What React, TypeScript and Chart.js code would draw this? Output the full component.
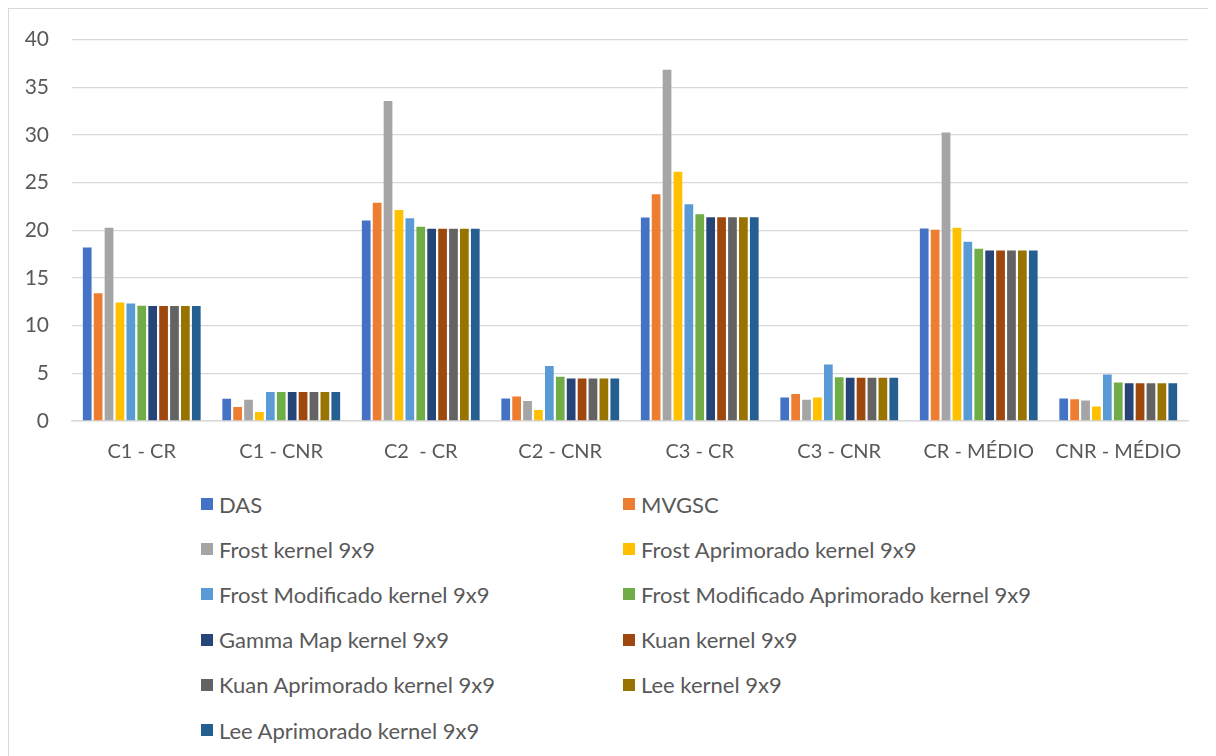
import React, { useEffect, useRef } from "react";
import { Chart, registerables } from "chart.js";

Chart.register(...registerables);

const categories = ["C1 - CR", "C1 - CNR", "C2  - CR", "C2 - CNR", "C3 - CR", "C3 - CNR", "CR - MÉDIO", "CNR - MÉDIO"];

const seriesNames = [
  "DAS",
  "MVGSC",
  "Frost kernel 9x9",
  "Frost Aprimorado kernel 9x9",
  "Frost Modificado kernel 9x9",
  "Frost Modificado Aprimorado kernel 9x9",
  "Gamma Map kernel 9x9",
  "Kuan kernel 9x9",
  "Kuan Aprimorado kernel 9x9",
  "Lee kernel 9x9",
  "Lee Aprimorado kernel 9x9",
];

const seriesColors = ["#4472C4", "#ED7D31", "#A5A5A5", "#FFC000", "#5B9BD5", "#70AD47", "#264478", "#9E480E", "#636363", "#997300", "#255E91"];

const das = [18.2, 2.33, 21.02, 2.37, 21.34, 2.47, 20.19, 2.37];
const mvgsc = [13.4, 1.46, 22.9, 2.58, 23.78, 2.82, 20.05, 2.27];
const frost = [20.26, 2.23, 33.56, 2.09, 36.83, 2.23, 30.25, 2.16];
const frostAprimorado = [12.43, 0.94, 22.14, 1.15, 26.15, 2.47, 20.26, 1.53];
const frostModificado = [12.32, 3.03, 21.27, 5.78, 22.73, 5.92, 18.8, 4.87];
const frostModificadoAprimorado = [12.1, 3.03, 20.37, 4.63, 21.69, 4.6, 18.07, 4.04];
const gammaMap = [12.07, 3.03, 20.16, 4.45, 21.38, 4.53, 17.89, 3.97];
const kuan = [12.07, 3.03, 20.16, 4.45, 21.38, 4.53, 17.89, 3.97];
const kuanAprimorado = [12.07, 3.03, 20.16, 4.45, 21.38, 4.53, 17.89, 3.97];
const lee = [12.07, 3.03, 20.16, 4.45, 21.38, 4.53, 17.89, 3.97];
const leeAprimorado = [12.07, 3.03, 20.16, 4.45, 21.38, 4.53, 17.89, 3.97];

const seriesValues = [das, mvgsc, frost, frostAprimorado, frostModificado, frostModificadoAprimorado, gammaMap, kuan, kuanAprimorado, lee, leeAprimorado];

const yMin = 0;
const yMax = 40;
const yStep = 5;

const FONT = "Lato, 'Noto Sans', sans-serif";
const TEXT = "#595959";
const GRID = "#d9d9d9";

export default function App() {
  const canvasRef = useRef<HTMLCanvasElement | null>(null);

  useEffect(() => {
    if (!canvasRef.current) return;
    const chart = new Chart(canvasRef.current, {
      type: "bar",
      data: {
        labels: categories,
        datasets: seriesNames.map((name, i) => ({
          label: name,
          data: seriesValues[i],
          backgroundColor: seriesColors[i],
          borderWidth: 0,
          categoryPercentage: 0.86,
          barPercentage: 0.8,
        })),
      },
      options: {
        animation: false,
        responsive: false,
        devicePixelRatio: 1,
        layout: { padding: { top: 10, right: 28, bottom: 0, left: 0 } },
        plugins: { legend: { display: false }, tooltip: { enabled: false } },
        scales: {
          x: {
            grid: { display: false, drawTicks: false },
            border: { display: true, color: GRID, width: 1.5 },
            ticks: { color: TEXT, font: { family: FONT, size: 20 }, padding: 19, maxRotation: 0, autoSkip: false },
            afterFit: (s: any) => {
              s.height = 68;
            },
          },
          y: {
            min: yMin,
            max: yMax,
            grid: { color: GRID, lineWidth: 1.3, drawTicks: false },
            border: { display: false },
            ticks: { stepSize: yStep, color: TEXT, font: { family: FONT, size: 21 }, padding: 23 },
            afterFit: (s: any) => {
              s.width = 63;
            },
          },
        },
      },
    });
    return () => chart.destroy();
  }, []);

  const rowTop = (i: number) => 495 + i * 45.2 - 15;

  return (
    <div
      style={{
        position: "relative",
        width: 1208,
        height: 748,
        boxSizing: "border-box",
        borderTop: `1px solid ${GRID}`,
        borderLeft: `1px solid ${GRID}`,
        fontFamily: FONT,
        background: "#fff",
      }}
    >
      <canvas ref={canvasRef} width={1207} height={485} style={{ position: "absolute", left: 0, top: -5 }} />
      {seriesNames.map((name, i) => {
        const col = i % 2;
        const row = Math.floor(i / 2);
        return (
          <div
            key={name}
            style={{
              position: "absolute",
              left: col === 0 ? 192 : 614,
              top: rowTop(row),
              height: 30,
              display: "flex",
              alignItems: "center",
              whiteSpace: "nowrap",
              color: TEXT,
              fontSize: 22,
            }}
          >
            <span style={{ display: "inline-block", width: 12, height: 12, background: seriesColors[i], marginRight: 6 }} />
            <span>{name}</span>
          </div>
        );
      })}
    </div>
  );
}
